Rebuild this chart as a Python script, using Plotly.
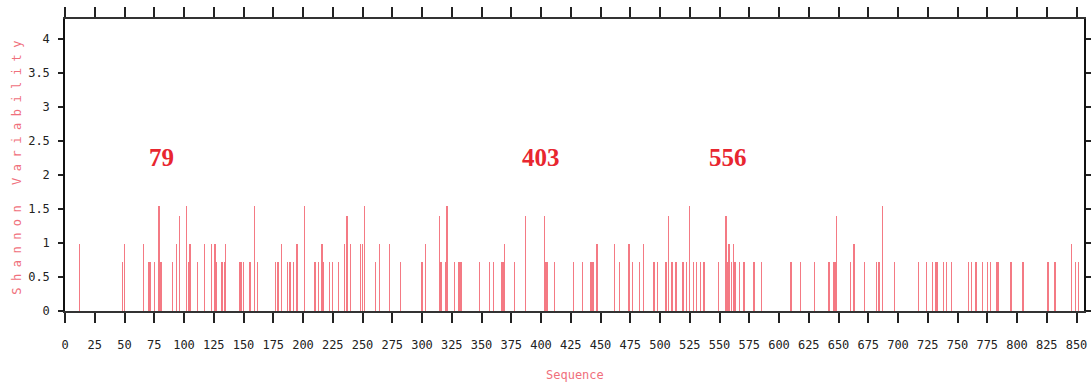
import plotly.graph_objects as go

# Sequence positions and Shannon variability values
positions = [12, 48, 50, 66, 70, 71, 72, 75, 79, 80, 81, 90, 94, 96, 102, 104, 105, 111, 117, 123,
             126, 127, 132, 134, 135, 147, 148, 150, 155, 156, 159, 162, 177, 179, 182, 187, 189, 192, 195, 201,
             210, 213, 216, 217, 222, 225, 230, 235, 237, 240, 248, 250, 252, 261, 264, 273, 282, 300, 303, 315,
             316, 320, 321, 327, 331, 332, 333, 348, 357, 360, 367, 368, 369, 378, 387, 403, 404, 405, 411, 427,
             435, 442, 443, 444, 447, 462, 466, 474, 477, 483, 486, 495, 498, 505, 507, 510, 513, 514, 519, 520,
             522, 525, 528, 531, 534, 537, 549, 555, 556, 557, 558, 560, 562, 563, 567, 570, 571, 579, 585, 610,
             618, 630, 642, 646, 647, 648, 660, 663, 672, 682, 684, 687, 697, 717, 724, 729, 732, 733, 738, 741,
             745, 759, 762, 765, 766, 771, 775, 778, 783, 784, 795, 805, 826, 832, 846, 849, 852]
variability = [0.99, 0.72, 0.99, 0.99, 0.72, 0.72, 0.72, 0.72, 1.54, 0.72, 0.72, 0.72, 0.99, 1.40, 1.54, 0.72, 0.99, 0.72, 0.99, 0.99,
               0.99, 0.72, 0.72, 0.72, 0.99, 0.72, 0.72, 0.72, 0.72, 0.72, 1.54, 0.72, 0.72, 0.72, 0.99, 0.72, 0.72, 0.72, 0.99, 1.54,
               0.72, 0.72, 0.99, 0.72, 0.72, 0.72, 0.72, 0.99, 1.40, 0.99, 0.99, 0.99, 1.54, 0.72, 0.99, 0.99, 0.72, 0.72, 0.99, 1.40,
               0.72, 0.72, 1.54, 0.72, 0.72, 0.72, 0.72, 0.72, 0.72, 0.72, 0.72, 0.72, 0.99, 0.72, 1.40, 1.40, 0.72, 0.72, 0.72, 0.72,
               0.72, 0.72, 0.72, 0.72, 0.99, 0.99, 0.72, 0.99, 0.72, 0.72, 0.99, 0.72, 0.72, 0.72, 1.40, 0.72, 0.72, 0.72, 0.72, 0.72,
               0.72, 1.54, 0.72, 0.72, 0.72, 0.72, 0.72, 1.40, 1.40, 0.72, 0.99, 0.72, 0.99, 0.72, 0.72, 0.72, 0.72, 0.72, 0.72, 0.72,
               0.72, 0.72, 0.72, 0.72, 0.72, 1.40, 0.72, 0.99, 0.72, 0.72, 0.72, 1.54, 0.72, 0.72, 0.72, 0.72, 0.72, 0.72, 0.72, 0.72,
               0.72, 0.72, 0.72, 0.72, 0.72, 0.72, 0.72, 0.72, 0.72, 0.72, 0.72, 0.72, 0.72, 0.72, 0.99, 0.72, 0.72]

# Highlighted positions
highlight_labels = ["79", "403", "556"]
highlight_x = [79, 403, 556]
highlight_y = [2.25, 2.25, 2.25]

x_ticks = list(range(0, 851, 25))
y_ticks = [0, 0.5, 1, 1.5, 2, 2.5, 3, 3.5, 4]

fig = go.Figure()
fig.add_trace(go.Bar(
    x=positions, y=variability, width=1.0,
    marker=dict(color="rgba(240,70,85,0.72)", line=dict(width=0)),
    showlegend=False, hoverinfo="x+y",
))

label_shift = [2, -4, 1]
for lab, lx, ly, sh in zip(highlight_labels, highlight_x, highlight_y, label_shift):
    fig.add_annotation(x=lx, y=ly, text=f"<b>{lab}</b>", showarrow=False,
                       xshift=sh, font=dict(family="Liberation Serif", size=25, color="#e8262f"),
                       xanchor="center", yanchor="middle")

fig.add_annotation(xref="paper", yref="paper", x=0.5, y=0, yshift=-64, text="Sequence",
                   showarrow=False, xanchor="center", yanchor="middle",
                   font=dict(family="DejaVu Sans Mono", size=12, color="#f0707c"))
fig.add_annotation(xref="paper", yref="paper", x=0, y=0.5, xshift=-48, text="Shannon Variability",
                   showarrow=False, textangle=-90, xanchor="center", yanchor="middle",
                   font=dict(family="DejaVu Sans Mono", size=12, color="#f0707c"))

fig.update_layout(
    width=1091, height=384,
    margin=dict(l=65, r=7, t=19, b=73, autoexpand=False),
    plot_bgcolor="white", paper_bgcolor="white",
    bargap=0,
)
fig.update_xaxes(range=[0, 856.3], tickvals=x_ticks, showgrid=False, zeroline=False,
                 showline=True, linecolor="#333333", linewidth=2, mirror="ticks",
                 ticks="outside", ticklen=10, tickwidth=1.5, tickcolor="#222222",
                 ticklabelstandoff=12, automargin=False,
                 tickfont=dict(family="DejaVu Sans Mono", size=12, color="#222222"))
fig.update_yaxes(range=[0, 4.29], tickvals=y_ticks, showgrid=False, zeroline=False,
                 showline=True, linecolor="#111111", linewidth=1.5, mirror="ticks",
                 ticks="outside", ticklen=5, tickwidth=1.5, tickcolor="#222222",
                 ticklabelstandoff=6, automargin=False,
                 tickfont=dict(family="DejaVu Sans Mono", size=12, color="#222222"))

post = """
document.querySelectorAll('.annotation-text').forEach(function(t){
  if (t.textContent.indexOf('Shannon') === 0) { t.style.letterSpacing = '6.5px'; }
});
"""
fig.write_html("out.html", post_script=post)
